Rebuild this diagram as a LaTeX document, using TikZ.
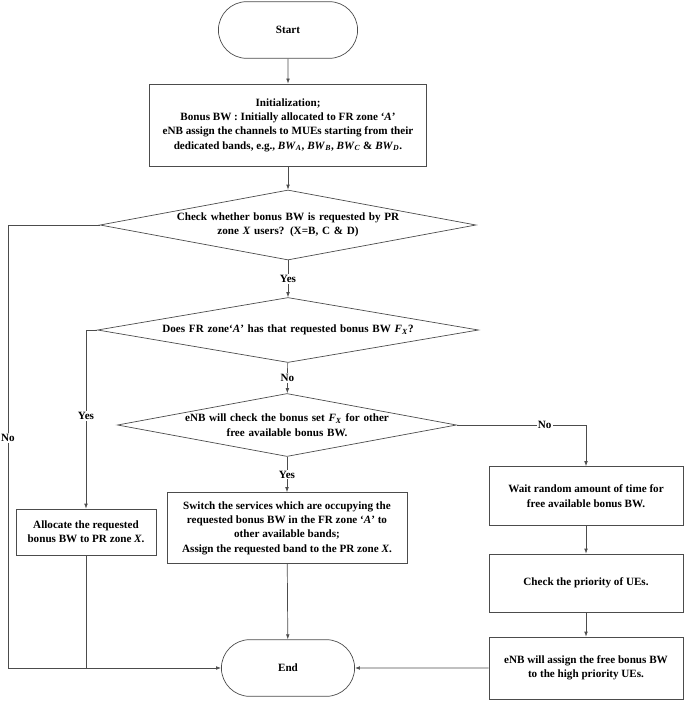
\documentclass[tikz,border=0pt]{standalone}
\usepackage{fontspec}
\setmainfont{Liberation Serif}
\usepackage{tikz}
\usetikzlibrary{positioning,arrows.meta,shapes.geometric,shapes.misc}

\newcommand{\itsub}[2]{\textit{#1}\textsubscript{\textit{#2}}}

\begin{document}
\begin{tikzpicture}[
    x=0.03cm, y=-0.03cm,
    every node/.style={font=\fontsize{9.5}{12.3}\selectfont\bfseries},
    terminal/.style={rounded rectangle, draw=black!70, line width=0.6pt, minimum height=1.7cm},
    process/.style={rectangle, draw=black!70, line width=0.6pt, align=center, inner sep=2pt},
    decision/.style={diamond, draw=black!70, line width=0.6pt, align=center, text width=9cm, inner xsep=-4.4cm, inner ysep=0pt},
    lbl/.style={fill=white, inner sep=1pt},
    arrow/.style={-{Latex[length=1.5mm, width=1.1mm]}, draw=black!70, line width=0.6pt},
    line/.style={draw=black!70, line width=0.6pt},
]
\useasboundingbox (0,0) rectangle (685,702);

% --- TERMINALS ---
\node[terminal, minimum width=4.41cm] (start) at (288,30) {Start};
\node[terminal, minimum width=4.23cm] (end) at (288,668) {End};

% --- MAIN COLUMN ---
\node[process, minimum width=8.31cm, minimum height=2.46cm] (init) at (288,125) {Initialization;\\
    Bonus BW : Initially allocated to FR zone ‘\textit{A}’\\
    eNB assign the channels to MUEs starting from their\\
    dedicated bands, e.g., \itsub{BW}{A}, \itsub{BW}{B}, \itsub{BW}{C} \& \itsub{BW}{D}.};

\node[decision, minimum width=11.28cm, minimum height=2.1cm] (req) at (288,225)
    {Check whether bonus BW is requested by PR\\ zone \textit{X} users? (X=B, C \& D)};
\node[decision, minimum width=11.43cm, minimum height=1.95cm] (has) at (288,330)
    {Does FR zone‘\textit{A}’ has that requested bonus BW \itsub{F}{X}?};
\node[decision, minimum width=10.17cm, minimum height=1.89cm] (set) at (287,425)
    {eNB will check the bonus set \itsub{F}{X} for other\\ free available bonus BW.};

% --- BRANCH BOXES ---
\node[process, minimum width=4.2cm, minimum height=1.38cm] (alloc) at (86,532)
    {Allocate the requested\\ bonus BW to PR zone \textit{X}.};
\node[process, minimum width=7.2cm, minimum height=2.13cm] (switch) at (287,528)
    {Switch the services which are occupying the\\ requested bonus BW in the FR zone ‘\textit{A}’ to\\
     other available bands;\\ Assign the requested band to the PR zone \textit{X}.};

\node[process, minimum width=5.82cm, minimum height=1.77cm] (wait) at (586,496)
    {Wait random amount of time for\\ free available bonus BW.};
\node[process, minimum width=5.82cm, minimum height=1.74cm] (prio) at (586,583)
    {Check the priority of UEs.};
\node[process, minimum width=5.82cm, minimum height=1.86cm] (assign) at (586,668)
    {eNB will assign the free bonus BW\\ to the high priority UEs.};

% --- FREE ENDS ---
\coordinate (noL) at (8,668);

% --- ARROWS ---
\draw[arrow] (start) -- (init);
\draw[arrow] (init) -- (req);
\draw[arrow] (req) -- node[lbl] {Yes} (has);
\draw[arrow] (has) -- node[lbl] {No} (set);
\draw[arrow] (set) -- node[lbl] {Yes} (switch);

\draw[arrow] (req.west) -| node[lbl, pos=0.74] {No} (noL) -- (end.west);
\draw[arrow] (has.west) -| node[lbl, pos=0.74] {Yes} (alloc.north);
\draw[line] (alloc.south) -- (alloc.south |- noL);
\draw[arrow] (switch) -- (end);

\draw[arrow] (set.east) -| node[lbl, pos=0.34] {No} (wait.north);
\draw[arrow] (wait) -- (prio);
\draw[arrow] (prio) -- (assign);
\draw[arrow] (assign) -- (end);

\end{tikzpicture}
\end{document}
